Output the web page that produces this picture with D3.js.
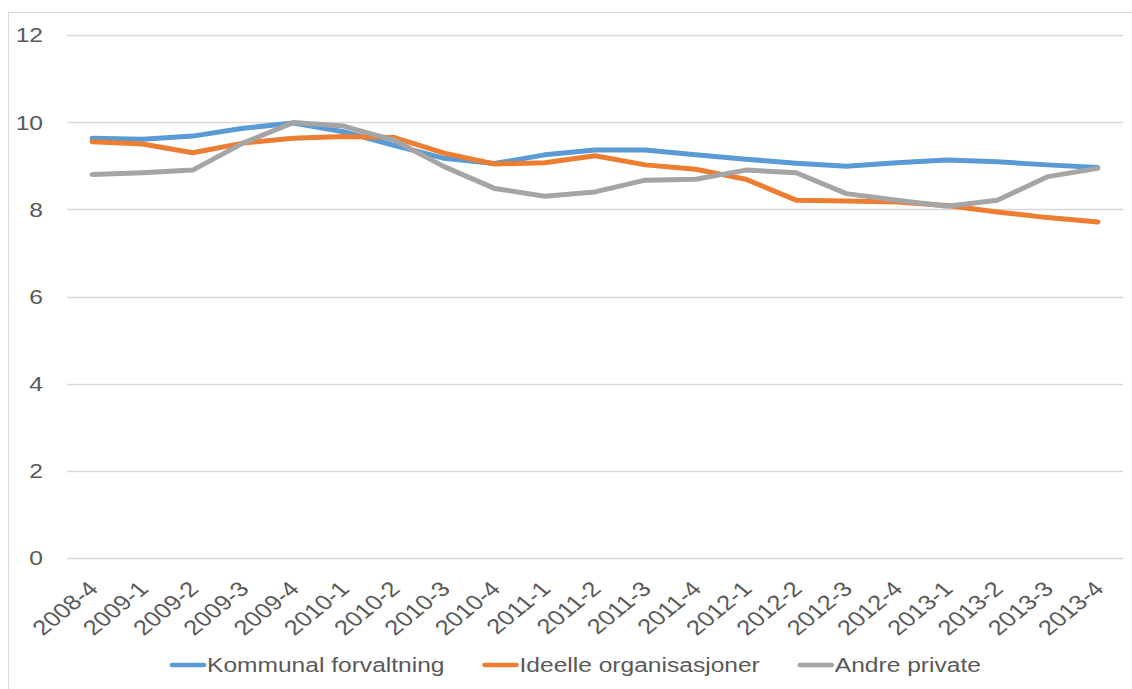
<!DOCTYPE html>
<html>
<head>
<meta charset="utf-8">
<script src="https://cdn.jsdelivr.net/npm/d3@7"></script>
<style>
  body { margin: 0; background: #fff; }
  text { font-family: "Liberation Sans", Arial, sans-serif; fill: #595959; }
</style>
</head>
<body>
<div id="chart"></div>
<script>
// quarters on the x axis
const quarters = ["2008-4", "2009-1", "2009-2", "2009-3", "2009-4", "2010-1", "2010-2", "2010-3", "2010-4",
    "2011-1", "2011-2", "2011-3", "2011-4", "2012-1", "2012-2", "2012-3", "2012-4",
    "2013-1", "2013-2", "2013-3", "2013-4"];

const kommunal = [9.63, 9.61, 9.68, 9.86, 9.98, 9.78, 9.47, 9.17, 9.05, 9.25, 9.36,
    9.36, 9.25, 9.15, 9.06, 8.99, 9.07, 9.13, 9.09, 9.02, 8.96];
const ideelle = [9.55, 9.50, 9.30, 9.52, 9.63, 9.67, 9.65, 9.29, 9.04, 9.07, 9.23,
    9.02, 8.92, 8.69, 8.21, 8.19, 8.17, 8.09, 7.94, 7.81, 7.71];
const andre = [8.80, 8.84, 8.90, 9.52, 9.99, 9.91, 9.59, 8.98, 8.48, 8.30, 8.40,
    8.67, 8.69, 8.90, 8.84, 8.36, 8.21, 8.07, 8.21, 8.75, 8.94];

const seriesNames = ["Kommunal forvaltning", "Ideelle organisasjoner", "Andre private"];
const seriesColors = ["#5B9BD5", "#ED7D31", "#A5A5A5"];
const yTicks = [0, 2, 4, 6, 8, 10, 12];

function draw() {
    const W = 1132, H = 689;
    const plot = { left: 67, right: 1123, top: 35, bottom: 558 };
    const sx = 1.17;  // the picture is a bit wider than tall, text is stretched with it

    const svg = d3.select("#chart")
        .append("svg")
        .attr("width", W)
        .attr("height", H);

    // chart frame
    svg.append("rect")
        .attr("x", 8.5).attr("y", 12.5)
        .attr("width", W + 20).attr("height", H + 20)
        .attr("fill", "none")
        .attr("stroke", "#D9D9D9");

    const x = d3.scaleBand()
        .domain(quarters)
        .range([plot.left, plot.right]);

    const y = d3.scaleLinear()
        .domain([0, 12])
        .range([plot.bottom, plot.top]);

    const cx = d => x(d) + x.bandwidth() / 2;

    // gridlines
    svg.append("g")
        .selectAll("line")
        .data(yTicks)
        .join("line")
        .attr("x1", plot.left)
        .attr("x2", plot.right)
        .attr("y1", d => Math.round(y(d)) + 0.5)
        .attr("y2", d => Math.round(y(d)) + 0.5)
        .attr("stroke", "#D9D9D9")
        .attr("stroke-width", 1.3);

    // y labels
    svg.append("g")
        .selectAll("text")
        .data(yTicks)
        .join("text")
        .attr("transform", d => `translate(43,${y(d)}) scale(${sx},1)`)
        .attr("dy", "0.35em")
        .attr("text-anchor", "end")
        .style("font-size", "21px")
        .text(d => d);

    // x labels, rotated
    svg.append("g")
        .selectAll("text")
        .data(quarters)
        .join("text")
        .attr("transform", d => `translate(${cx(d) + 1},${plot.bottom + 27}) scale(1.22,1) rotate(-45)`)
        .attr("dy", "0.35em")
        .attr("text-anchor", "end")
        .style("font-size", "21px")
        .text(d => d);

    const seriesData = [kommunal, ideelle, andre];

    const line = d3.line()
        .x((d, i) => cx(quarters[i]))
        .y(d => y(d));

    svg.append("g")
        .selectAll("path")
        .data(seriesData)
        .join("path")
        .attr("d", line)
        .attr("fill", "none")
        .attr("stroke", (d, i) => seriesColors[i])
        .attr("stroke-width", 5)
        .attr("stroke-linejoin", "round")
        .attr("stroke-linecap", "round");

    // legend
    const legend = svg.append("g");
    let lx = 172;
    const ly = 665;
    seriesNames.forEach((name, i) => {
        legend.append("line")
            .attr("x1", lx).attr("x2", lx + 32)
            .attr("y1", ly).attr("y2", ly)
            .attr("stroke", seriesColors[i])
            .attr("stroke-width", 4.5)
            .attr("stroke-linecap", "round");
        const t = legend.append("text")
            .attr("transform", `translate(${lx + 35},${ly}) scale(${sx},1)`)
            .attr("dy", "0.35em")
            .style("font-size", "21px")
            .text(name);
        lx += 35 + t.node().getComputedTextLength() * sx + 40;
    });
}

window.onload = draw;
</script>
</body>
</html>
